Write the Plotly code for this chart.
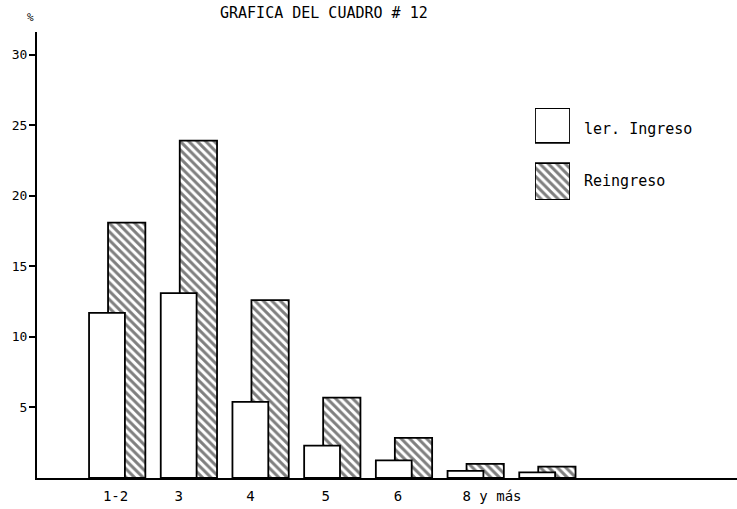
import plotly.graph_objects as go

# ---- data ----
categories = ["1-2", "3", "4", "5", "6", "7", "8 y más"]
primer_ingreso = [11.7, 13.1, 5.4, 2.3, 1.25, 0.5, 0.4]
reingreso = [18.1, 23.9, 12.6, 5.7, 2.85, 1.0, 0.8]
series_names = ["ler. Ingreso", "Reingreso"]
tick_labels = ["1-2", "3", "4", "5", "6", "8 y más"]
y_ticks = [5, 10, 15, 20, 25, 30]

FONT = "DejaVu Sans Mono, Liberation Mono, monospace"
x_pos = list(range(1, len(categories) + 1))
# label anchor positions (category index, the last label sits between the last two groups)
label_pos = [1.12, 2.0, 3.0, 4.05, 5.06, 6.37]

HATCH = dict(shape="\\", size=6, solidity=0.5, fgcolor="black", bgcolor="white")

fig = go.Figure()

fig.add_trace(go.Bar(
    x=x_pos, y=reingreso, name=series_names[1],
    width=0.52, offset=0.015,
    marker=dict(color="white", line=dict(color="black", width=1.8), pattern=HATCH),
    showlegend=False,
))
fig.add_trace(go.Bar(
    x=x_pos, y=primer_ingreso, name=series_names[0],
    width=0.5, offset=-0.25,
    marker=dict(color="white", line=dict(color="black", width=1.8)),
    showlegend=False,
))

# legend boxes drawn as bars on a small auxiliary axis
fig.add_trace(go.Bar(
    x=[0.5], y=[0.38], base=[0.62], width=[1.0],
    marker=dict(color="white", line=dict(color="black", width=1.8)),
    xaxis="x2", yaxis="y2", showlegend=False, hoverinfo="skip",
))
fig.add_trace(go.Bar(
    x=[0.5], y=[0.40], base=[0.0], width=[1.0],
    marker=dict(color="white", line=dict(color="black", width=1.8), pattern=HATCH),
    xaxis="x2", yaxis="y2", showlegend=False, hoverinfo="skip",
))

W, H = 737, 509
L, R, T, B = 37, 0, 32, 31
pw, ph = W - L - R, H - T - B

def px_x(p):
    return (p - L) / pw

def px_y(p):
    return (H - B - p) / ph

fig.update_layout(
    width=W, height=H,
    margin=dict(l=L, r=R, t=T, b=B, pad=0),
    paper_bgcolor="white", plot_bgcolor="white",
    barmode="overlay",
    font=dict(family=FONT, size=13, color="black"),
    xaxis=dict(
        range=[0.024, 9.787], showgrid=False, zeroline=False,
        showline=True, linecolor="black", linewidth=2,
        tickmode="array", tickvals=label_pos, ticktext=tick_labels,
        ticks="", tickfont=dict(family=FONT, size=14, color="black"),
        ticklabelstandoff=4, automargin=False,
    ),
    yaxis=dict(
        range=[0, 31.6], showgrid=False, zeroline=False,
        showline=True, linecolor="black", linewidth=2,
        tickmode="array", tickvals=y_ticks,
        ticks="outside", ticklen=6, tickwidth=1.6, tickcolor="black",
        tickfont=dict(family=FONT, size=13, color="black"),
        ticklabelstandoff=-1, automargin=False,
    ),
    xaxis2=dict(domain=[px_x(535), px_x(570)], range=[0, 1], anchor="y2",
                visible=False, fixedrange=True),
    yaxis2=dict(domain=[px_y(200), px_y(108)], range=[0, 1], anchor="x2",
                visible=False, fixedrange=True),
    showlegend=False,
)

fig.add_annotation(text="GRAFICA DEL CUADRO # 12", xref="paper", yref="paper",
                   x=px_x(324), y=px_y(13), showarrow=False,
                   font=dict(family=FONT, size=15, color="black"),
                   xanchor="center", yanchor="middle")
fig.add_annotation(text="%", xref="paper", yref="paper",
                   x=px_x(30), y=px_y(17), showarrow=False,
                   font=dict(family=FONT, size=11, color="black"),
                   xanchor="center", yanchor="middle")
fig.add_annotation(text=series_names[0], xref="paper", yref="paper",
                   x=px_x(582), y=px_y(129), showarrow=False,
                   font=dict(family=FONT, size=15, color="black"),
                   xanchor="left", yanchor="middle")
fig.add_annotation(text=series_names[1], xref="paper", yref="paper",
                   x=px_x(582), y=px_y(181), showarrow=False,
                   font=dict(family=FONT, size=15, color="black"),
                   xanchor="left", yanchor="middle")

fig.write_html(
    "out.html",
    config={"displayModeBar": False},
    post_script="document.body.style.margin='0px';document.body.style.overflow='hidden';",
)
